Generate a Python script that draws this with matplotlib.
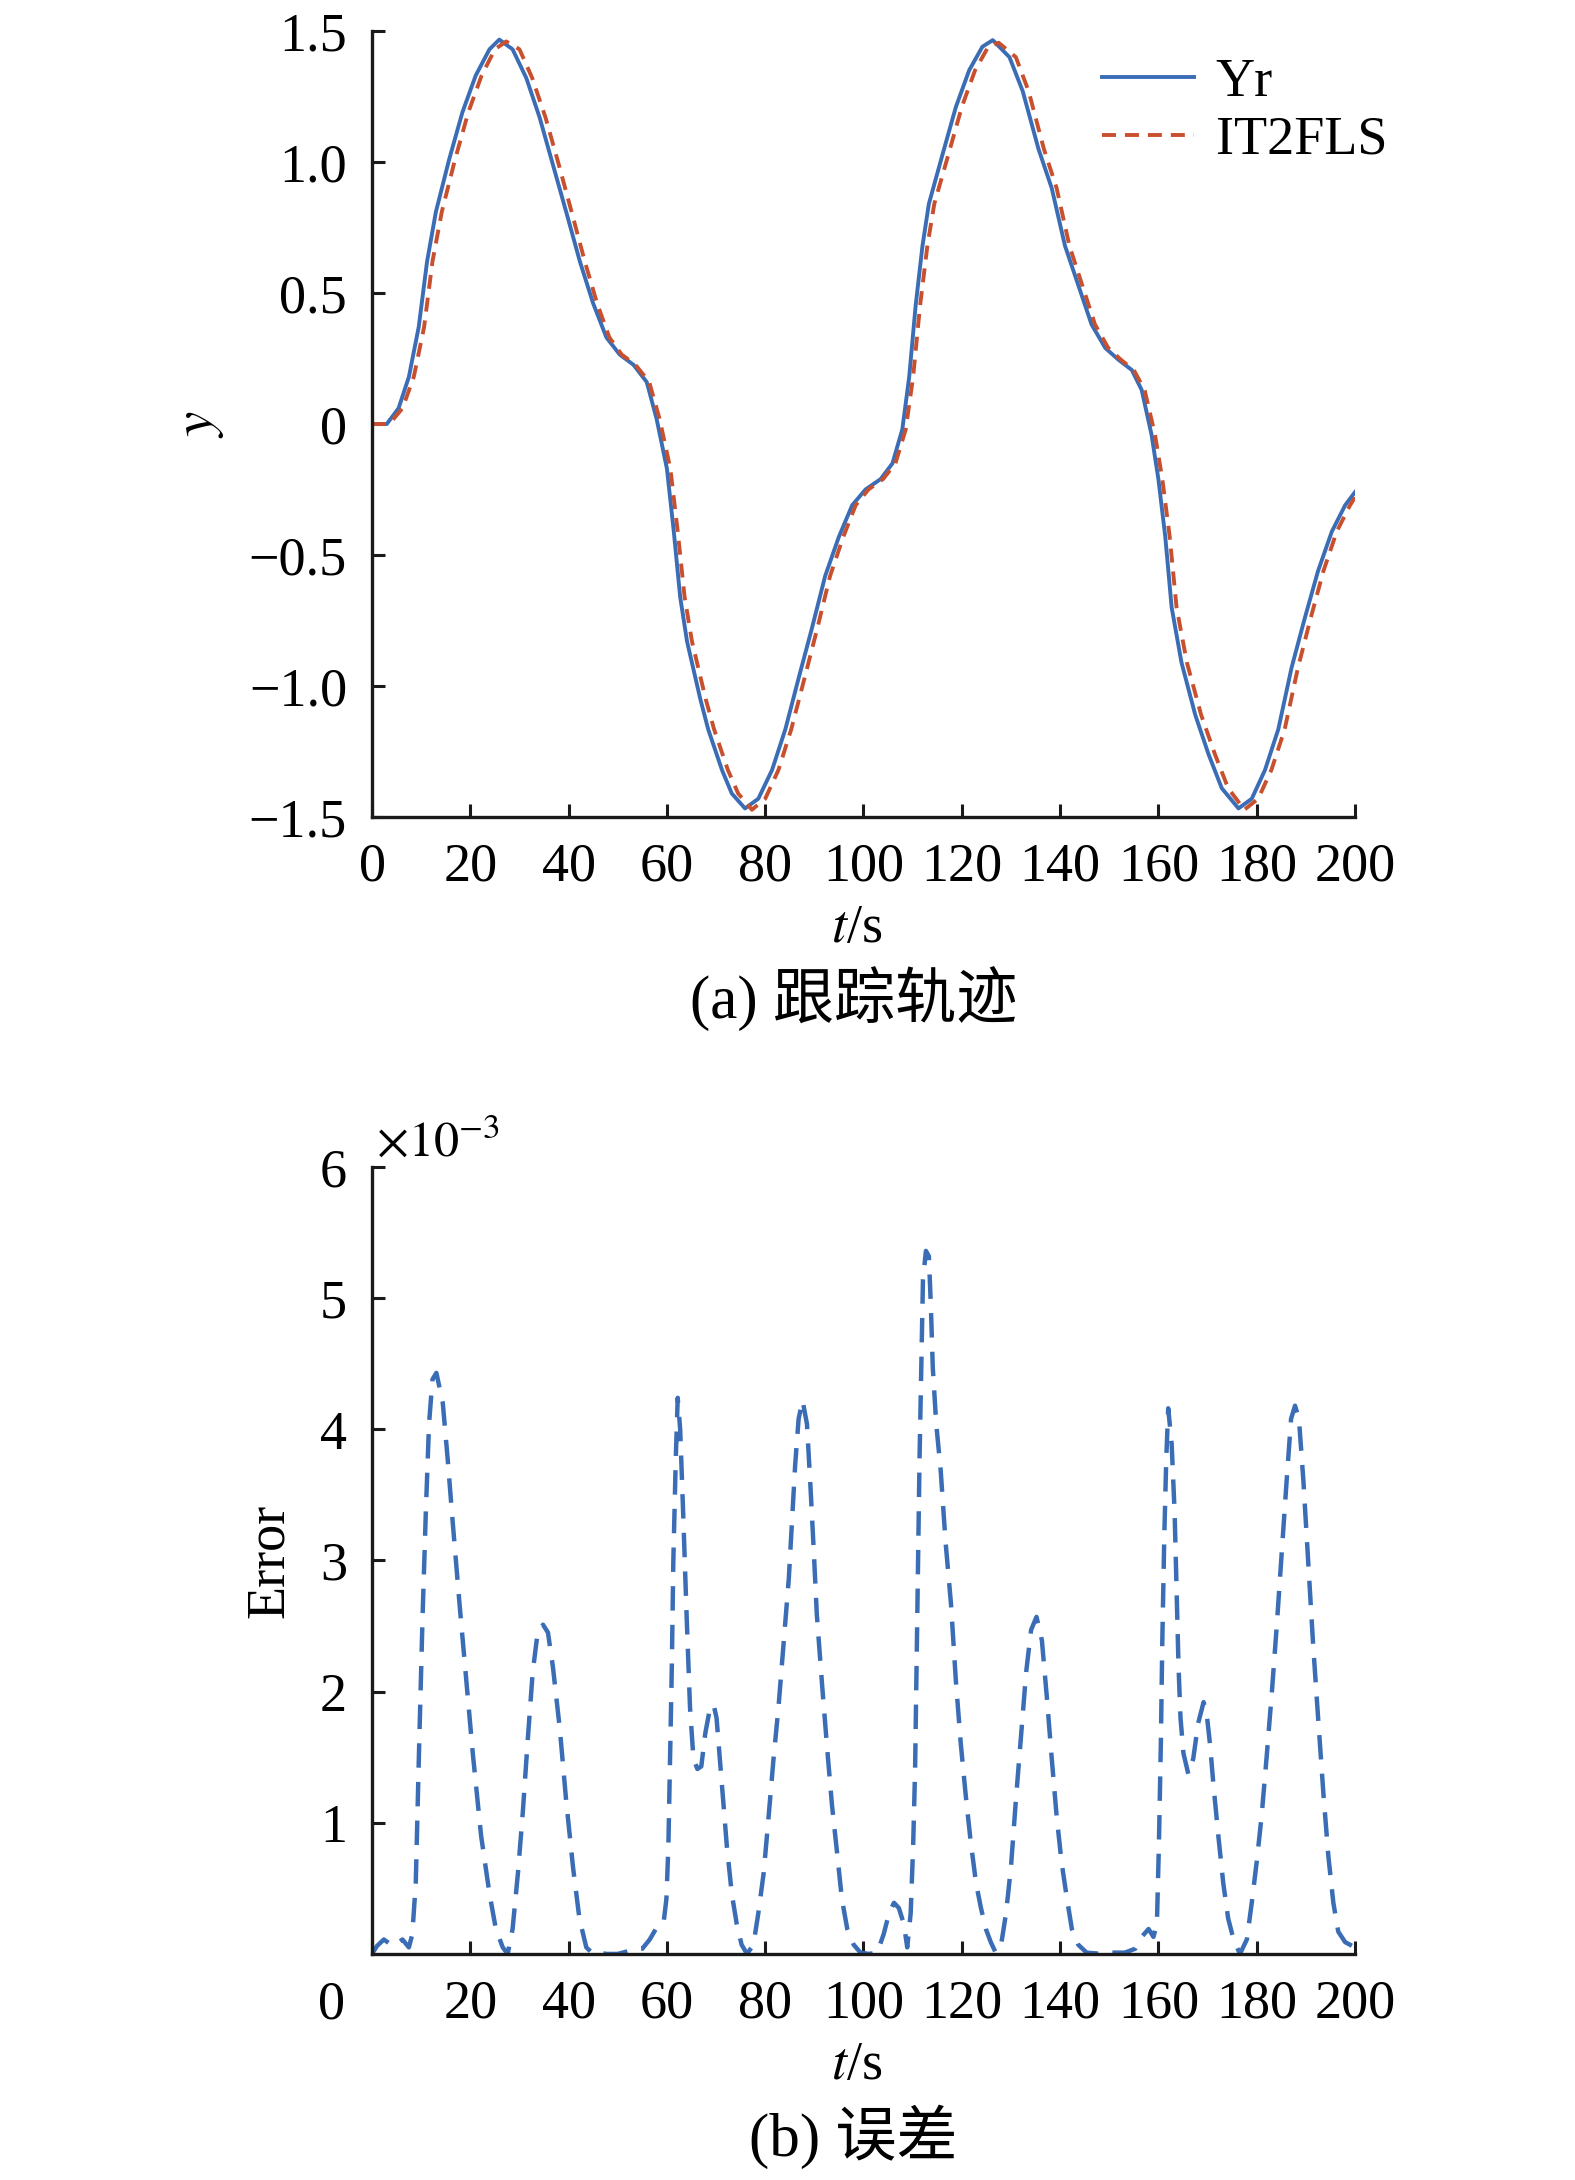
import matplotlib
matplotlib.use("Agg")
from matplotlib import pyplot as plt

plt.rcParams['font.family'] = ['Liberation Serif', 'Noto Sans CJK SC']
plt.rcParams['mathtext.fontset'] = 'stix'
plt.rcParams['axes.unicode_minus'] = True

# tracking trajectory, reference signal Yr
t_yr = [0, 3, 5.4, 7.5, 9.5, 11.2, 13, 15.7, 18.4, 21.1, 23.9, 25.9, 28.6, 31.4, 34.1,
        36.8, 39.5, 42.3, 45, 47.7, 50.4, 53.2, 55.9, 57.9, 60, 61.4, 62.7, 64.1, 66.8,
        68.4, 71.2, 73.2, 75.9, 78.6, 81.4, 84.1, 86.8, 89.5, 92.2, 95, 97.7, 100.4,
        103.5, 105.9, 107.9, 109.3, 110.6, 112, 113.3, 116.1, 118.8, 121.5, 124.2, 126.3,
        129.7, 132.4, 135.6, 138.3, 141, 143.7, 146.4, 149.2, 151.9, 154.6, 156.6, 158.6,
        160, 161.4, 162.7, 164.7, 167.5, 170.2, 172.9, 176.3, 179, 181.7, 184.4, 187.1,
        189.8, 192.5, 195.3, 198, 200]
y_yr = [0, 0.0, 0.06, 0.18, 0.37, 0.62, 0.81, 1.01, 1.19, 1.33, 1.43, 1.467, 1.43, 1.32, 1.17,
        0.99, 0.81, 0.62, 0.46, 0.33, 0.265, 0.226, 0.16, 0.02, -0.17, -0.41, -0.66, -0.83, -1.05,
        -1.165, -1.32, -1.41, -1.467, -1.43, -1.32, -1.165, -0.97, -0.78, -0.58, -0.43, -0.31, -0.25,
        -0.21, -0.15, -0.02, 0.18, 0.45, 0.68, 0.84, 1.03, 1.21, 1.35, 1.44, 1.465,
        1.40, 1.27, 1.05, 0.90, 0.68, 0.53, 0.38, 0.29, 0.245, 0.206, 0.13, -0.04,
        -0.21, -0.43, -0.70, -0.91, -1.11, -1.26, -1.39, -1.467, -1.43, -1.32, -1.165, -0.93,
        -0.74, -0.56, -0.41, -0.31, -0.26]

# IT2FLS output
t_fls = [0, 3.5, 6.2, 8.5, 10.6, 12.3, 14.2, 16.9, 19.6, 22.3, 25, 27.3, 30, 32.6, 35.3,
         38, 40.6, 43.3, 45.8, 48.3, 50.8, 53.6, 56.4, 58.5, 60.7, 62.2, 63.6, 65.1, 67.9,
         69.6, 72.4, 74.5, 77.3, 80, 82.7, 85.3, 88, 90.6, 93.2, 95.9, 98.4, 101,
         104, 106.5, 108.6, 110.1, 111.5, 113, 114.4, 117.3, 120, 122.7, 125.4, 127.5,
         131, 133.6, 136.7, 139.3, 141.9, 144.5, 147.1, 149.8, 152.4, 155, 157.2, 159.3,
         160.8, 162.3, 163.7, 165.8, 168.7, 171.5, 174.2, 177.5, 180.3, 183, 185.7, 188.4,
         191, 193.6, 196.3, 199, 200]
y_fls = [0, 0.0, 0.06, 0.18, 0.37, 0.62, 0.81, 1.01, 1.19, 1.33, 1.43, 1.46, 1.43, 1.32, 1.17,
         0.99, 0.81, 0.62, 0.46, 0.33, 0.265, 0.226, 0.16, 0.02, -0.17, -0.41, -0.66, -0.83, -1.05,
         -1.165, -1.32, -1.41, -1.472, -1.43, -1.32, -1.165, -0.97, -0.78, -0.58, -0.43, -0.31, -0.25,
         -0.21, -0.15, -0.02, 0.18, 0.45, 0.68, 0.84, 1.03, 1.21, 1.35, 1.44, 1.455,
         1.40, 1.27, 1.05, 0.90, 0.68, 0.53, 0.38, 0.29, 0.245, 0.206, 0.13, -0.04,
         -0.21, -0.43, -0.70, -0.91, -1.11, -1.26, -1.39, -1.472, -1.43, -1.32, -1.165, -0.93,
         -0.74, -0.56, -0.41, -0.31, -0.28]

# tracking error (x 1e-3)
t_err = [0, 1.0, 2.4, 4.3, 6.2, 7.5, 8.2, 8.9, 9.6, 10.3, 10.95, 11.6, 12.3, 13.1, 14.4,
         15.4, 16.4, 17.8, 19.1, 20.5, 22.2, 23.9, 25.2, 26.6, 27.6, 28.6, 29.7, 30.7, 31.7,
         32.7, 33.7, 34.8, 35.8, 36.8, 38.2, 39.5, 40.9, 42.2, 43.6, 45, 46.3, 47.7, 50,
         52, 53.5, 55, 56.5, 57.9, 59.3, 59.9, 60.3, 60.6, 61, 61.3, 61.8, 62.2, 62.7,
         63.3, 64, 64.7, 65.4, 66.2, 67, 67.8, 68.8, 69.5, 70.1, 71.2, 72.2, 73.2, 74.2,
         75.2, 76.3, 77.6, 78.6, 79.7, 80.7, 81.7, 82.7, 83.7, 84.8, 85.4, 86.1, 86.8,
         87.6, 88.5, 89.2, 89.9, 90.5, 91.6, 92.6, 93.6, 94.6, 95.6, 96.7, 98, 99.4,
         101.1, 102.8, 104.1, 105.2, 106.2, 107.2, 108.2, 108.9, 109.6, 110.1, 110.5,
         110.8, 111.1, 111.4, 111.8, 112.1, 112.7, 113.3, 113.7, 114.1, 114.8, 115.7,
         116.7, 117.8, 118.8, 119.8, 120.8, 121.8, 122.9, 123.9, 124.9, 125.9, 126.9,
         128, 129, 130, 131, 132, 133.1, 134.1, 135.2, 136.3, 137.3, 138.3, 139.3, 140.3,
         141.4, 142.4, 143.7, 145.4, 148.5, 150.5, 153.2, 155.3, 156.6, 158, 159, 159.7,
         160.1, 160.5, 160.8, 161.2, 161.6, 162, 162.7, 163.3, 163.7, 164.1, 164.5, 165.1,
         166.1, 167.1, 168.1, 169.2, 169.8, 170.5, 171.2, 172.2, 173.2, 174.2, 175.3,
         176.6, 178, 179, 180, 181, 182, 183.1, 184.1, 185.1, 186.1, 187, 187.8, 188.6,
         189.5, 190.5, 191.5, 192.5, 193.6, 194.6, 195.6, 196.6, 198, 200]
e_err = [0, 0.06, 0.11, 0.06, 0.11, 0.05, 0.15, 0.54, 1.6, 2.59, 3.37, 4.04, 4.38, 4.43, 4.2,
         3.77, 3.3, 2.67, 2.12, 1.53, 0.9, 0.46, 0.19, 0.05, 0.0, 0.19, 0.62, 1.09, 1.64,
         2.15, 2.45, 2.51, 2.45, 2.19, 1.72, 1.17, 0.66, 0.27, 0.05, 0.0, 0.01, 0.0, 0.0,
         0.02, 0.04, 0.04, 0.11, 0.2, 0.23, 0.42, 0.82, 1.41, 2.19, 2.98, 3.77, 4.24, 4.0,
         3.37, 2.59, 1.88, 1.49, 1.41, 1.43, 1.68, 1.88, 1.9, 1.8, 1.29, 0.82, 0.46, 0.23,
         0.07, 0.0, 0.07, 0.31, 0.62, 1.05, 1.49, 1.88, 2.35, 2.86, 3.26, 3.73, 4.08,
         4.22, 4.04, 3.57, 3.06, 2.59, 2.04, 1.57, 1.13, 0.78, 0.42, 0.19, 0.07, 0.01,
         0.0, 0.01, 0.15, 0.31, 0.39, 0.35, 0.23, 0.05, 0.31, 0.82, 1.41,
         2.19, 2.98, 3.77, 4.55, 5.14, 5.36, 5.32, 4.95, 4.47, 4.04, 3.69,
         3.14, 2.67, 2.08, 1.6, 1.21, 0.86, 0.54, 0.35, 0.19, 0.09, 0.01,
         0.07, 0.31, 0.66, 1.17, 1.64, 2.15, 2.47, 2.57, 2.39, 1.96, 1.49, 1.05, 0.7,
         0.42, 0.19, 0.07, 0.01, 0.0, 0.01, 0.01, 0.04, 0.13, 0.19, 0.13, 0.23,
         0.82, 1.6, 2.39, 3.18, 3.77, 4.16, 3.89, 3.37, 2.78, 2.19, 1.8, 1.53,
         1.37, 1.49, 1.76, 1.92, 1.84, 1.6, 1.29, 0.9, 0.54, 0.27, 0.11,
         0.0, 0.11, 0.39, 0.7, 1.05, 1.49, 2.0, 2.51, 3.06, 3.61, 4.08, 4.18, 4.08,
         3.61, 2.98, 2.35, 1.8, 1.21, 0.74, 0.39, 0.17, 0.09, 0.05]

x_ticks = [0, 20, 40, 60, 80, 100, 120, 140, 160, 180, 200]
y_ticks_a = [-1.5, -1.0, -0.5, 0, 0.5, 1.0, 1.5]
y_labels_a = ['\u22121.5', '\u22121.0', '\u22120.5', '0', '0.5', '1.0', '1.5']
y_ticks_b = [1, 2, 3, 4, 5, 6]

blue = '#3a6db5'
red = '#c9502e'
fs = 39

fig = plt.figure(figsize=(15.75, 21.8), dpi=100)
ax1 = fig.add_axes([0.2362, 0.6252, 0.6241, 0.3606])
ax2 = fig.add_axes([0.2362, 0.1037, 0.6241, 0.3610])


def style_axes(ax):
    for side in ['top', 'right']:
        ax.spines[side].set_visible(False)
    for side in ['left', 'bottom']:
        ax.spines[side].set_linewidth(2.4)
        ax.spines[side].set_color('#1a1a1a')
    ax.tick_params(direction='in', length=9.5, width=2.2, color='#1a1a1a',
                   labelsize=fs, pad=18)
    ax.set_xlim(0, 200)
    ax.set_xticks(x_ticks)


# (a) tracking trajectory
style_axes(ax1)
ax1.plot(t_yr, y_yr, '-', color=blue, lw=2.8, solid_joinstyle='round', label='Yr')
ax1.plot(t_fls, y_fls, '--', color=red, lw=2.8, dashes=(3.6, 2.3),
         dash_joinstyle='round', label='IT2FLS')
ax1.set_ylim(-1.5, 1.5)
ax1.set_yticks(y_ticks_a)
ax1.set_yticklabels(y_labels_a)
ax1.set_ylabel('$y$', fontsize=fs + 2, va='center')
ax1.yaxis.set_label_coords(-0.175, 0.5)
ax1.set_xlabel('$t$/s', fontsize=fs, va='center')
ax1.xaxis.set_label_coords(0.493, -0.142)
ax1.text(0.49, -0.232, '(a) 跟踪轨迹', transform=ax1.transAxes, fontsize=fs + 5,
         ha='center', va='center')
ax1.legend(loc='upper left', bbox_to_anchor=(1102 / 1575, 1 - 57 / 2180),
           bbox_transform=fig.transFigure, frameon=False, fontsize=fs,
           handlelength=1.7, handletextpad=0.4, labelspacing=0.14, borderpad=0,
           borderaxespad=0)

# (b) error
style_axes(ax2)
ax2.plot(t_err, e_err, '--', color=blue, lw=3.2, dashes=(5.5, 3.2))
ax2.set_ylim(0, 6)
ax2.set_yticks(y_ticks_b)
ax2.set_xticklabels([''] + [str(v) for v in x_ticks[1:]])
ax2.text(-0.027, -0.033, '0', transform=ax2.transAxes, fontsize=fs, ha='right', va='top')
ax2.text(0.004, 1.014, r'$\times10^{-3}$', transform=ax2.transAxes, fontsize=fs - 3,
         ha='left', va='baseline')
ax2.set_ylabel('Error', fontsize=fs, va='center')
ax2.yaxis.set_label_coords(-0.104, 0.5)
ax2.set_xlabel('$t$/s', fontsize=fs, va='center')
ax2.xaxis.set_label_coords(0.493, -0.142)
ax2.text(0.49, -0.232, '(b) 误差', transform=ax2.transAxes, fontsize=fs + 5,
         ha='center', va='center')

fig.savefig('out.png', dpi=100, facecolor='white')
